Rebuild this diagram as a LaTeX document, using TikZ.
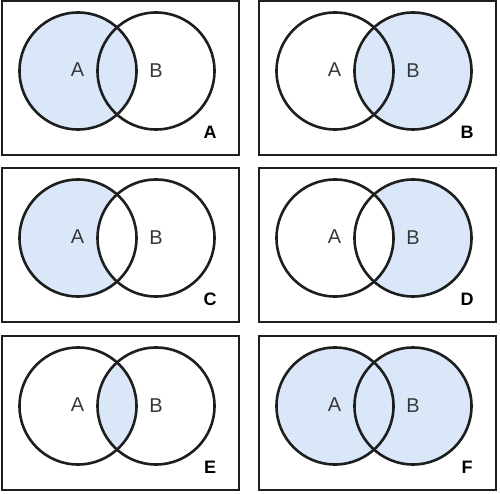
\documentclass[tikz,border=0pt]{standalone}
\usepackage{fontspec}
\setmainfont{Liberation Sans}
\definecolor{VennBlue}{HTML}{DAE7F9}
\definecolor{RingGray}{HTML}{1E1E1E}
\definecolor{LabelGray}{HTML}{383838}

% one framed panel: #1,#2 = top left corner, #3 = tag, #4 = shading
\newcommand{\vennpanel}[4]{%
  \begin{scope}[shift={(#1,#2)}]
    \coordinate (#3ca) at (76,70);
    \coordinate (#3cb) at (154,70);
    #4
    \draw[ring] (#3ca) circle (58.5);
    \draw[ring] (#3cb) circle (58.5);
    \node[setlabel] (#3seta) at (75.5,69) {A};
    \node[setlabel] (#3setb) at (154,69.5) {B};
    \node[tag] (#3tag) at (208,131) {#3};
    \draw[frame] (0,0) rectangle (237,154);
  \end{scope}}

\begin{document}
\begin{tikzpicture}[
    x=1pt, y=-1pt,
    ring/.style={draw=RingGray, line width=2.6pt},
    frame/.style={draw=RingGray, line width=2pt},
    shade/.style={fill=VennBlue},
    setlabel/.style={
      inner sep=0pt,
      text=LabelGray,
      font=\fontsize{20}{20}\selectfont
    },
    tag/.style={
      inner sep=0pt,
      font=\bfseries\fontsize{18}{18}\selectfont
    }
  ]
    \useasboundingbox (0,0) rectangle (500,494);

    % whole of A
    \vennpanel{2}{1}{A}{\fill[shade] (Aca) circle (58.5);}
    % whole of B
    \vennpanel{259}{1}{B}{\fill[shade] (Bcb) circle (58.5);}
    % A only
    \vennpanel{2}{168}{C}{%
      \fill[shade] (Cca) circle (58.5);
      \begin{scope}
        \clip (Cca) circle (58.5);
        \fill[white] (Ccb) circle (58.5);
      \end{scope}}
    % B only
    \vennpanel{259}{168}{D}{%
      \fill[shade] (Dcb) circle (58.5);
      \begin{scope}
        \clip (Dcb) circle (58.5);
        \fill[white] (Dca) circle (58.5);
      \end{scope}}
    % A and B
    \vennpanel{2}{336}{E}{%
      \begin{scope}
        \clip (Eca) circle (58.5);
        \fill[shade] (Ecb) circle (58.5);
      \end{scope}}
    % A or B
    \vennpanel{259}{336}{F}{%
      \fill[shade] (Fca) circle (58.5);
      \fill[shade] (Fcb) circle (58.5);}
  \end{tikzpicture}
\end{document}
